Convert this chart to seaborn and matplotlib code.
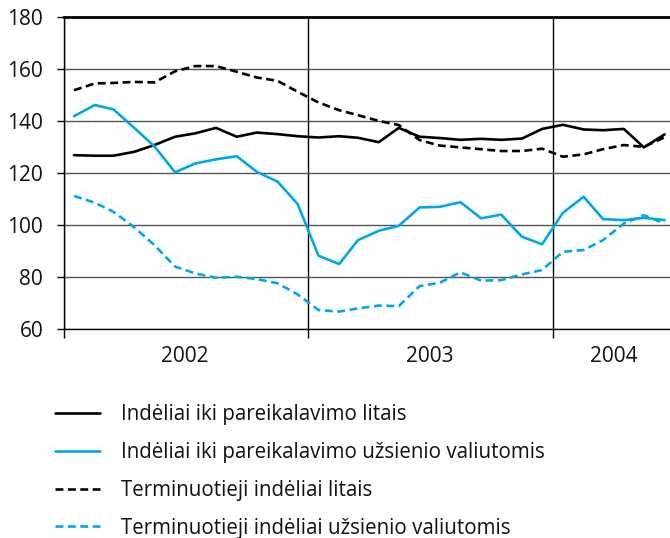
import pandas as pd
import matplotlib.pyplot as plt
import seaborn as sns

sns.set_theme(style="white")
plt.rcParams['font.family'] = ['Open Sans', 'DejaVu Sans']

# Monthly data, Jan 2002 - Jun 2004
months = pd.date_range("2002-01-01", periods=30, freq="MS") + pd.Timedelta(days=15)

demand_litas = [126.9, 126.7, 126.7, 128.2, 130.8, 134.0, 135.3, 137.4, 134.0, 135.6,
                135.0, 134.2, 133.7, 134.2, 133.6, 131.9, 137.4, 134.0, 133.5, 132.8,
                133.2, 132.8, 133.3, 137.0, 138.6, 136.8, 136.5, 137.0, 129.9, 134.9]
demand_fx = [141.9, 146.2, 144.5, 137.4, 130.3, 120.3, 123.7, 125.3, 126.5, 120.5,
             116.7, 108.1, 88.2, 85.0, 94.2, 97.8, 99.7, 106.8, 107.0, 108.8,
             102.6, 104.0, 95.5, 92.6, 104.7, 110.9, 102.3, 101.9, 102.8, 101.9]
time_litas = [151.9, 154.5, 154.7, 155.1, 154.9, 159.2, 161.2, 161.2, 159.0, 156.8,
              155.5, 151.3, 147.2, 144.2, 142.3, 140.1, 138.5, 132.7, 130.6, 129.9,
              129.2, 128.5, 128.5, 129.4, 126.3, 127.2, 129.2, 130.8, 130.1, 133.8]
time_fx = [111.2, 108.6, 105.1, 99.1, 92.3, 84.0, 81.4, 79.7, 80.1, 79.2,
           77.6, 73.3, 67.3, 66.7, 67.9, 69.0, 68.8, 76.5, 77.8, 81.8,
           78.6, 78.8, 81.0, 82.7, 89.7, 90.4, 94.2, 100.6, 103.8, 100.6]

labels = ["Indėliai iki pareikalavimo litais",
          "Indėliai iki pareikalavimo užsienio valiutomis",
          "Terminuotieji indėliai litais",
          "Terminuotieji indėliai užsienio valiutomis"]
year_labels = ["2002", "2003", "2004"]

black = "#000000"
blue = "#00a8e8"
dash = (0, (3, 1.7))
styles = [(black, "-"), (blue, "-"), (black, dash), (blue, dash)]
series = [demand_litas, demand_fx, time_litas, time_fx]

fig = plt.figure(figsize=(6.7, 5.38), dpi=100)
ax = fig.add_axes([0.0955, 0.3885, 0.9045, 0.5795])

for vals, lab, (col, ls) in zip(series, labels, styles):
    df = pd.DataFrame({"month": months, "value": vals})
    sns.lineplot(data=df, x="month", y="value", ax=ax, color=col, linestyle=ls,
                 linewidth=1.9, label=lab)

ax.set_ylim(60, 180)
ax.set_yticks(range(60, 181, 20))
ax.set_xlim(pd.Timestamp("2002-01-01"), pd.Timestamp("2004-06-24"))

# year separators
ax.set_xticks([pd.Timestamp("2002-01-01"), pd.Timestamp("2003-01-01"), pd.Timestamp("2004-01-01")])
ax.set_xticklabels([])
ax.set_xticks([pd.Timestamp("2002-07-01"), pd.Timestamp("2003-07-01"), pd.Timestamp("2004-04-01")],
              minor=True)
ax.set_xticklabels(year_labels, minor=True)
ax.tick_params(axis="x", which="major", direction="out", length=6.5, width=1, color="black",
               bottom=True)
ax.tick_params(axis="x", which="minor", length=0, pad=12, labelsize=15, labelcolor="#111111")
ax.tick_params(axis="y", direction="out", length=5, width=1, color="black", left=True,
               labelsize=15, labelcolor="#111111", pad=10)

ax.grid(axis="y", color="#555555", linewidth=1)
ax.grid(axis="x", which="major", color="black", linewidth=1)
ax.set_axisbelow(True)

for side in ["left", "bottom"]:
    ax.spines[side].set_color("black")
    ax.spines[side].set_linewidth(1)
ax.spines["top"].set_color("black")
ax.spines["top"].set_linewidth(2)
ax.spines["right"].set_visible(False)

ax.set_xlabel("")
ax.set_ylabel("")

handles, labs = ax.get_legend_handles_labels()
ax.get_legend().remove()
fig.legend(handles, labs, loc="upper left", bbox_to_anchor=(0.082, 0.249),
           frameon=False, fontsize=14.8, handlelength=2.2, handletextpad=1.0,
           labelspacing=0.82, borderpad=0, borderaxespad=0, labelcolor="#111111")

fig.savefig("out.png", dpi=100)
